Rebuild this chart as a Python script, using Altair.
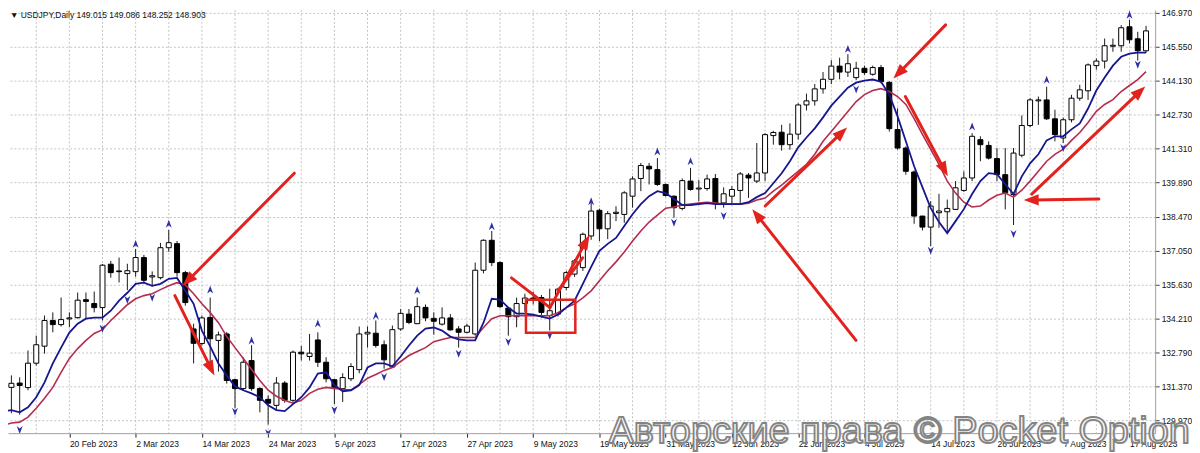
import json
import math
import altair as alt
import pandas as pd

# ---------------- data ----------------
# bar index 1 = 9 Feb 2023 ... 138 = 21 Aug 2023 (weekdays)
opens = [131.34, 131.52, 131.33, 132.35, 133.06, 134.13, 133.96, 134.20, 134.25, 135.00,
         134.84, 134.67, 136.48, 136.20, 136.09, 136.17, 136.76, 135.95, 135.92, 137.17,
         137.34, 136.13, 133.78, 133.17, 134.26, 133.30, 133.57, 131.66, 131.29, 132.46,
         131.29, 130.84, 130.59, 131.52, 130.80, 132.81, 132.63, 133.32, 132.39, 131.66,
         131.29, 131.70, 132.08, 133.57, 133.60, 133.12, 132.19, 133.78, 134.40, 134.00,
         134.68, 134.22, 133.98, 134.24, 133.78, 133.64, 133.57, 136.23, 137.48, 136.55,
         134.65, 134.29, 134.84, 135.07, 135.09, 134.34, 134.40, 135.51, 136.07, 136.34,
         137.66, 138.73, 137.96, 138.60, 138.56, 139.32, 140.06, 140.57, 140.43, 139.81,
         139.32, 138.81, 139.95, 139.62, 139.64, 140.06, 139.04, 139.32, 139.56, 140.20,
         139.95, 140.29, 141.85, 141.99, 141.47, 141.91, 143.13, 143.30, 143.80, 144.20,
         144.75, 144.50, 144.27, 144.66, 144.41, 144.69, 144.07, 142.10, 141.33, 140.33,
         138.49, 138.03, 138.63, 138.67, 138.77, 139.56, 140.08, 141.68, 141.44, 140.89,
         140.22, 139.39, 141.03, 142.27, 143.30, 143.34, 142.55, 141.75, 142.51, 143.41,
         143.72, 144.77, 144.96, 145.58, 145.60, 146.39, 145.89, 145.39]
highs = [131.84, 131.76, 132.88, 133.50, 134.34, 134.47, 135.09, 134.47, 135.30, 135.30,
         135.34, 136.49, 136.62, 136.76, 136.50, 137.12, 136.87, 136.18, 137.37, 137.91,
         137.45, 136.20, 134.00, 134.34, 135.09, 133.67, 133.65, 131.70, 132.60, 133.10,
         131.35, 131.01, 131.77, 131.60, 132.88, 133.07, 133.57, 133.64, 132.60, 131.70,
         131.93, 132.35, 133.88, 133.88, 134.13, 133.30, 133.92, 134.61, 134.61, 135.09,
         134.80, 134.47, 134.68, 134.40, 133.90, 134.00, 136.55, 137.52, 137.87, 136.60,
         134.70, 135.09, 135.25, 135.34, 135.20, 135.46, 135.50, 136.20, 136.70, 137.80,
         139.04, 138.80, 138.70, 138.90, 139.53, 140.15, 140.71, 140.71, 140.91, 139.85,
         139.35, 140.06, 140.50, 140.00, 140.22, 140.25, 139.69, 139.74, 140.33, 140.29,
         141.54, 141.95, 142.05, 142.30, 142.36, 143.20, 143.60, 144.00, 144.50, 145.00,
         145.10, 145.25, 144.93, 144.77, 144.77, 144.80, 144.13, 142.99, 141.40, 140.40,
         138.50, 139.11, 139.42, 139.18, 139.95, 140.36, 141.95, 141.82, 141.61, 141.33,
         141.33, 141.33, 142.69, 143.41, 143.48, 143.89, 142.93, 142.60, 143.55, 143.97,
         144.86, 145.07, 145.90, 145.90, 146.46, 146.68, 146.18, 146.43]
lows = [130.26, 130.20, 131.22, 132.25, 132.75, 133.64, 133.88, 133.85, 134.21, 134.21,
        134.47, 134.13, 135.92, 135.72, 135.40, 135.96, 135.70, 135.55, 135.85, 137.00,
        135.96, 134.75, 132.34, 133.09, 132.20, 132.00, 131.50, 130.47, 131.20, 131.20,
        130.30, 129.79, 130.36, 130.70, 130.70, 132.46, 132.46, 132.19, 131.55, 130.64,
        130.73, 131.60, 131.93, 133.00, 133.00, 132.12, 132.15, 133.70, 133.98, 133.98,
        134.10, 133.54, 133.92, 133.71, 133.00, 133.60, 133.50, 136.10, 136.40, 134.65,
        133.50, 133.85, 134.50, 134.80, 134.25, 133.71, 134.30, 135.40, 135.95, 136.20,
        137.50, 137.45, 137.53, 138.28, 138.21, 138.84, 139.53, 139.81, 139.75, 139.30,
        138.42, 138.73, 139.55, 139.11, 139.55, 138.77, 138.84, 138.97, 138.97, 139.25,
        139.87, 139.95, 141.47, 141.22, 141.26, 141.68, 142.90, 143.10, 143.60, 144.00,
        144.20, 144.30, 144.17, 144.38, 144.35, 144.03, 142.02, 141.26, 140.22, 138.17,
        137.89, 137.24, 138.00, 137.87, 138.77, 139.50, 139.95, 140.78, 140.85, 139.95,
        138.77, 138.12, 140.94, 142.20, 142.30, 142.50, 141.61, 141.54, 142.40, 143.30,
        143.34, 144.60, 144.65, 145.35, 145.35, 145.70, 144.98, 145.30]
closes = [131.51, 131.42, 132.35, 133.12, 134.13, 133.96, 134.17, 134.24, 134.98, 134.93,
          134.67, 136.44, 136.13, 136.17, 136.21, 136.76, 135.81, 136.00, 137.17, 137.38,
          136.13, 134.88, 133.18, 134.24, 133.37, 133.53, 131.63, 131.29, 132.39, 131.29,
          130.80, 130.68, 131.52, 130.80, 132.81, 132.74, 132.77, 132.39, 131.70, 131.29,
          131.75, 132.21, 133.57, 133.64, 133.09, 132.49, 133.75, 134.43, 134.05, 134.71,
          134.24, 134.10, 134.24, 133.74, 133.64, 133.90, 136.23, 137.48, 136.55, 134.71,
          134.29, 134.84, 135.07, 135.00, 134.47, 134.54, 135.44, 136.13, 136.62, 137.73,
          138.70, 137.96, 138.59, 138.65, 139.46, 140.04, 140.60, 140.46, 139.81, 139.35,
          138.84, 139.97, 139.60, 139.66, 140.04, 139.04, 139.42, 139.60, 140.25, 140.08,
          140.29, 141.89, 141.98, 141.47, 141.91, 143.13, 143.30, 143.80, 144.20, 144.75,
          144.50, 144.85, 144.66, 144.48, 144.69, 144.10, 142.14, 141.33, 140.36, 138.49,
          138.03, 138.91, 138.70, 138.81, 139.67, 140.08, 141.82, 141.47, 140.91, 140.22,
          139.46, 141.12, 142.27, 143.34, 143.34, 142.55, 141.89, 142.51, 143.41, 143.76,
          144.80, 144.96, 145.60, 145.62, 146.35, 145.85, 145.39, 146.22]

# moving averages, bar index 0 ... 138
blue_ma = [130.35, 130.39, 130.30, 130.51, 130.93, 131.55, 132.34, 133.00, 133.63, 134.00,
           134.21, 134.25, 134.25, 134.54, 134.96, 135.29, 135.66, 135.71, 135.58, 135.66,
           135.87, 135.91, 135.37, 134.83, 133.71, 133.05, 132.34, 131.84, 131.38, 131.22,
           131.09, 130.93, 130.59, 130.39, 130.35, 130.64, 130.93, 131.34, 131.92, 131.97,
           131.43, 131.18, 131.22, 131.43, 132.17, 132.34, 132.34, 132.22, 132.63, 133.09,
           133.50, 133.79, 133.84, 133.71, 133.46, 133.34, 133.30, 133.30, 134.04, 135.04,
           135.00, 134.67, 134.42, 134.42, 134.38, 134.29, 134.21, 134.38, 134.67, 134.96,
           135.66, 136.37, 137.04, 137.33, 137.58, 138.08, 138.57, 138.99, 139.32, 139.53,
           139.45, 139.20, 138.95, 138.95, 138.99, 139.03, 138.99, 138.99, 138.99, 138.99,
           139.07, 139.28, 139.45, 139.86, 140.28, 140.78, 141.36, 141.77, 142.15, 142.61,
           143.10, 143.48, 143.85, 144.06, 144.14, 144.19, 144.10, 143.56, 142.65, 141.61,
           140.57, 139.70, 138.82, 138.24, 137.78, 138.28, 138.78, 139.41, 139.95, 140.28,
           140.24, 139.82, 139.41, 140.15, 140.69, 141.07, 141.65, 141.82, 141.82, 142.11,
           142.36, 142.98, 143.73, 144.27, 144.77, 145.14, 145.27, 145.31, 145.31]
red_ma = [129.76, 129.85, 129.89, 130.10, 130.47, 130.89, 131.34, 131.97, 132.55, 132.96,
          133.30, 133.59, 133.75, 134.13, 134.46, 134.79, 135.04, 135.17, 135.25, 135.42,
          135.58, 135.71, 135.62, 135.25, 134.83, 134.46, 134.04, 133.46, 133.00, 132.55,
          132.09, 131.63, 131.22, 130.97, 130.80, 130.68, 130.80, 131.09, 131.26, 131.34,
          131.30, 131.26, 131.22, 131.47, 131.72, 131.88, 132.05, 132.17, 132.42, 132.67,
          132.84, 133.00, 133.25, 133.34, 133.42, 133.42, 133.42, 133.42, 133.84, 134.21,
          134.33, 134.33, 134.33, 134.33, 134.33, 134.33, 134.33, 134.46, 134.67, 134.83,
          135.08, 135.37, 135.79, 136.21, 136.58, 136.99, 137.45, 137.87, 138.24, 138.53,
          138.82, 138.87, 138.95, 138.99, 139.03, 139.07, 139.03, 138.99, 138.99, 138.99,
          139.03, 139.16, 139.24, 139.53, 139.78, 140.07, 140.36, 140.65, 141.07, 141.61,
          142.02, 142.44, 142.86, 143.27, 143.56, 143.73, 143.81, 143.69, 143.48, 143.15,
          142.56, 141.90, 141.28, 140.65, 139.95, 139.45, 139.07, 138.87, 138.91, 139.16,
          139.36, 139.45, 139.28, 139.57, 139.95, 140.36, 140.78, 141.07, 141.28, 141.65,
          141.98, 142.40, 142.86, 143.15, 143.35, 143.69, 143.94, 144.19, 144.52]

# fractal markers
up_idx = [16, 20, 25, 30, 38, 45, 50, 59, 71, 79, 83, 102, 117, 126, 136]
up_val = [137.33, 138.17, 135.42, 133.30, 134.01, 134.34, 135.40, 138.07, 139.11, 141.19,
          140.78, 145.47, 142.23, 144.18, 146.89]
dn_idx = [2, 12, 15, 18, 28, 32, 40, 46, 55, 61, 66, 81, 87, 103, 112, 122, 128, 137]
dn_val = [129.56, 133.79, 134.99, 135.08, 130.32, 129.43, 130.39, 131.77, 132.74, 133.23,
          133.50, 138.21, 138.49, 143.77, 137.04, 137.74, 141.33, 144.81]

# hand-drawn red annotations (bar index, price)
arr_from_i = [35.16, 20.74, 61.38, 66.03, 66.98, 92.01, 102.98, 113.80, 108.94, 132.30, 124.20]
arr_from_p = [140.28, 135.17, 135.91, 134.67, 135.37, 138.91, 133.30, 146.47, 143.48, 139.20, 139.41]
arr_to_i = [21.69, 25.51, 66.03, 70.80, 69.97, 101.90, 90.46, 107.50, 114.06, 123.24, 137.90]
arr_to_p = [135.58, 131.84, 134.67, 137.70, 136.75, 142.19, 138.78, 144.23, 140.15, 139.16, 143.90]
arr_head = [True, True, False, True, False, True, True, True, True, True, True]
box_i = [63.13, 69.09]
box_p = [133.62, 135.00]

# axes
y_ticks = [146.97, 145.55, 144.13, 142.73, 141.31, 139.89, 138.47, 137.05, 135.63,
           134.21, 132.79, 131.37, 129.97]
date_labels = ["8 Feb 2023", "20 Feb 2023", "2 Mar 2023", "14 Mar 2023", "24 Mar 2023",
               "5 Apr 2023", "17 Apr 2023", "27 Apr 2023", "9 May 2023", "19 May 2023",
               "31 May 2023", "12 Jun 2023", "22 Jun 2023", "4 Jul 2023", "14 Jul 2023",
               "26 Jul 2023", "7 Aug 2023", "17 Aug 2023"]
label_step = 8
header = "\u25bc USDJPY,Daily  149.015 149.086 148.252 148.903"
watermark = "\u0410\u0432\u0442\u043e\u0440\u0441\u043a\u0438\u0435 \u043f\u0440\u0430\u0432\u0430 \u00a9 Pocket Option"

# ---------------- layout / style ----------------
W, H = 1152, 425
X_DOM = [1.19, 138.5]
Y_DOM = [129.43, 147.095]
RED = "#e2231d"
BLUE_MA = "#16168f"
RED_MA = "#b42d4f"
FRACTAL = "#2f2fa8"
GRID = "#c4c4c4"
FONT = "Liberation Sans"

xs = alt.Scale(domain=X_DOM, nice=False, zero=False)
ys = alt.Scale(domain=Y_DOM, nice=False, zero=False)
x_ticks = [k * label_step for k in range(1, len(date_labels))]
x_axis = alt.Axis(values=x_ticks,
                  labelExpr=json.dumps(date_labels) + "[round(datum.value / %d)]" % label_step,
                  grid=False, tickSize=4, tickColor="#222", domainColor="#a0a0a0",
                  labelAlign="left", labelPadding=2, labelFont=FONT, labelFontSize=8.5,
                  labelColor="#111", title=None, labelOverlap=False, labelFlush=False)
y_axis = alt.Axis(orient="right", values=y_ticks, format=".3f", grid=True, gridColor=GRID,
                  gridDash=[2, 2], gridWidth=1, tickSize=4, tickColor="#444",
                  domainColor="#a0a0a0", labelFont=FONT, labelFontSize=8.5,
                  labelColor="#111", labelPadding=2, title=None)


def X(f):
    return alt.X(f, type="quantitative", scale=xs, axis=x_axis)


def Y(f):
    return alt.Y(f, type="quantitative", scale=ys, axis=y_axis)


bars = pd.DataFrame({"i": list(range(1, len(opens) + 1)), "o": opens, "h": highs,
                     "l": lows, "c": closes})
bars["dir"] = ["bull" if c >= o else "bear" for o, c in zip(opens, closes)]

ma_blue = pd.DataFrame({"i": list(range(len(blue_ma))), "v": blue_ma})
ma_red = pd.DataFrame({"i": list(range(len(red_ma))), "v": red_ma})
grid_df = pd.DataFrame({"i": list(range(4, 139, 4))})

# arrows: shafts and heads (heads oriented in screen space)
sx = W / (X_DOM[1] - X_DOM[0])
sy = H / (Y_DOM[1] - Y_DOM[0])
HEAD = 15
seg_rows, head_rows = [], []
for ti, tp, hi, hp, hh in zip(arr_from_i, arr_from_p, arr_to_i, arr_to_p, arr_head):
    dx = (hi - ti) * sx
    dy = -(hp - tp) * sy
    L = math.hypot(dx, dy)
    ux, uy = dx / L, dy / L
    if hh:
        back = HEAD * 0.6
        ei, ep = hi - ux * back / sx, hp + uy * back / sy
        ci, cp = hi - ux * (HEAD / 2) / sx, hp + uy * (HEAD / 2) / sy
        ang = math.degrees(math.atan2(ux, -uy)) % 360
        head_rows.append({"i": ci, "p": cp, "ang": ang})
    else:
        ei, ep = hi, hp
    seg_rows.append({"i": ti, "p": tp, "i2": ei, "p2": ep})
seg_df = pd.DataFrame(seg_rows)
head_df = pd.DataFrame(head_rows)
box_df = pd.DataFrame({"i": [box_i[0]], "i2": [box_i[1]], "p": [box_p[0]], "p2": [box_p[1]]})

grid = alt.Chart(grid_df).mark_rule(color=GRID, strokeDash=[2, 2], strokeWidth=1).encode(x=X("i"))

wicks = alt.Chart(bars).mark_rule(color="#1a1a1a", strokeWidth=1, clip=True).encode(
    x=X("i"), y=Y("l"), y2=alt.Y2("h"))
bodies = alt.Chart(bars).mark_bar(size=5, stroke="#000000", strokeWidth=1, clip=True).encode(
    x=X("i"), y=Y("o"), y2=alt.Y2("c"),
    fill=alt.Fill("dir:N", scale=alt.Scale(domain=["bull", "bear"], range=["#ffffff", "#000000"]),
                  legend=None))

line_red = alt.Chart(ma_red).mark_line(color=RED_MA, strokeWidth=1.6, clip=True).encode(
    x=X("i"), y=Y("v"))
line_blue = alt.Chart(ma_blue).mark_line(color=BLUE_MA, strokeWidth=1.8, clip=True).encode(
    x=X("i"), y=Y("v"))

up_path = "M0,-1L0.75,1L0,0.4L-0.75,1Z"
dn_path = "M0,1L0.75,-1L0,-0.4L-0.75,-1Z"
frac_up = alt.Chart(pd.DataFrame({"i": up_idx, "p": up_val})).mark_point(
    shape=up_path, filled=True, size=64, color=FRACTAL, opacity=1, clip=True).encode(
    x=X("i"), y=Y("p"))
frac_dn = alt.Chart(pd.DataFrame({"i": dn_idx, "p": dn_val})).mark_point(
    shape=dn_path, filled=True, size=64, color=FRACTAL, opacity=1, clip=True).encode(
    x=X("i"), y=Y("p"))

box = alt.Chart(box_df).mark_rect(fillOpacity=0, stroke=RED, strokeWidth=2.5).encode(
    x=X("i"), x2=alt.X2("i2"), y=Y("p"), y2=alt.Y2("p2"))
shafts = alt.Chart(seg_df).mark_rule(color=RED, strokeWidth=3, strokeCap="round").encode(
    x=X("i"), y=Y("p"), x2=alt.X2("i2"), y2=alt.Y2("p2"))
heads = alt.Chart(head_df).mark_point(
    shape="M0,-1L0.75,1L-0.75,1Z", filled=True, size=HEAD * HEAD, color=RED, opacity=1).encode(
    x=X("i"), y=Y("p"), angle=alt.Angle("ang:Q", scale=None))

head_txt = alt.Chart(pd.DataFrame({"t": [header]})).mark_text(
    align="left", baseline="middle", font=FONT, fontSize=8.5, color="#111", x=2, y=5).encode(
    text="t:N")
wm_df = pd.DataFrame({"t": [watermark]})
wm_shadow = alt.Chart(wm_df).mark_text(
    align="left", baseline="alphabetic", font=FONT, fontSize=38, fill="#bdbdbd",
    fillOpacity=0.5, x=604.5, y=436).encode(text="t:N")
wm = alt.Chart(wm_df).mark_text(
    align="left", baseline="alphabetic", font=FONT, fontSize=38, fill="#ffffff",
    fillOpacity=0.85, stroke="#848484", strokeWidth=1.8, x=603, y=435).encode(text="t:N")

chart = alt.layer(grid, wicks, bodies, line_red, line_blue, frac_up, frac_dn,
                  box, shafts, heads, wm_shadow, wm, head_txt).properties(
    width=W, height=H, padding={"left": 0, "top": 0, "right": 0, "bottom": 0},
    background="#ffffff").configure_view(strokeWidth=0)

chart.save("out.html", embed_options={"renderer": "svg", "actions": False})
